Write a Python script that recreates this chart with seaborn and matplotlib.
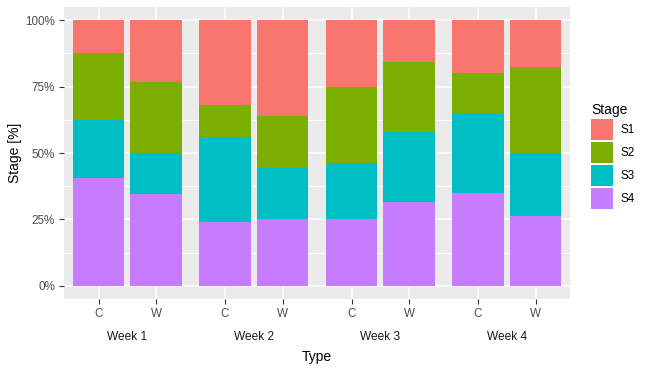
import pandas as pd
import matplotlib.pyplot as plt
import seaborn as sns
from matplotlib.patches import Patch
from matplotlib.ticker import MultipleLocator, PercentFormatter

# data (percent of each stage per week / type)
weeks = ['Week 1', 'Week 2', 'Week 3', 'Week 4']
types = ['C', 'W']
stages = ['S1', 'S2', 'S3', 'S4']
s1 = [12.3, 23.3, 32.0, 36.1, 25.0, 15.8, 19.8, 17.7]
s2 = [25.3, 26.8, 11.8, 19.5, 28.8, 26.3, 15.2, 32.4]
s3 = [21.9, 15.3, 32.1, 19.4, 21.2, 26.3, 30.1, 23.7]
s4 = [40.5, 34.6, 24.1, 25.0, 25.0, 31.6, 34.9, 26.2]

stage_colors = {'S1': '#F8766D', 'S2': '#7CAE00', 'S3': '#00BFC4', 'S4': '#C77CFF'}

df = pd.DataFrame({
    'week': [w for w in weeks for t in types],
    'type': types * len(weeks),
    'S1': s1, 'S2': s2, 'S3': s3, 'S4': s4,
})
# cumulative heights from the bottom (S4) up, so S1 ends on top
df['c4'] = df['S4']
df['c3'] = df['c4'] + df['S3']
df['c2'] = df['c3'] + df['S2']
df['c1'] = df['c2'] + df['S1']
df['c1'] = df['c1'] / df['c1'] * 100  # fill to 100%

plt.rcParams['font.family'] = ['Liberation Sans', 'DejaVu Sans']

W, H = 652, 374
fig = plt.figure(figsize=(W / 100, H / 100), dpi=100)
left, right, top, bottom = 64, 570, 7, 299
pw = (right - left) / 4

axes = []
for i, wk in enumerate(weeks):
    ax = fig.add_axes([(left + i * pw) / W, 1 - bottom / H, pw / W, (bottom - top) / H])
    sub = df[df['week'] == wk]
    for col, st in zip(['c1', 'c2', 'c3', 'c4'], stages):
        sns.barplot(data=sub, x='type', y=col, order=types, color=stage_colors[st],
                    saturation=1, width=0.9, edgecolor='none', linewidth=0, ax=ax, zorder=2)
    ax.set_xlim(-0.6, 1.6)
    ax.set_ylim(-5, 105)
    ax.set_facecolor('#EBEBEB')
    for s in ax.spines.values():
        s.set_visible(False)
    ax.yaxis.set_major_locator(MultipleLocator(25))
    ax.yaxis.set_minor_locator(MultipleLocator(12.5))
    ax.grid(which='major', color='white', linewidth=1.1, zorder=0)
    ax.grid(which='minor', axis='y', color='white', linewidth=0.55, zorder=0)
    ax.set_axisbelow(True)
    ax.tick_params(axis='x', which='major', length=3.5, width=0.8, color='#333333',
                   labelcolor='#4D4D4D', labelsize=8.4, pad=3)
    ax.tick_params(axis='y', which='minor', length=0)
    ax.set_xlabel('')
    ax.set_ylabel('')
    if i == 0:
        ax.yaxis.set_major_formatter(PercentFormatter(decimals=0))
        ax.tick_params(axis='y', which='major', length=3.5, width=0.8, color='#333333',
                       labelcolor='#4D4D4D', labelsize=8.4, pad=3)
    else:
        ax.tick_params(axis='y', which='major', length=0, labelleft=False)
    fig.text((left + (i + 0.5) * pw) / W, 1 - 337 / H, wk, ha='center', va='center',
             fontsize=8.6, color='#1A1A1A')
    axes.append(ax)

fig.text((left + right) / 2 / W, 1 - 357 / H, 'Type', ha='center', va='center',
         fontsize=10, color='black')
fig.text(15 / W, 1 - (top + bottom) / 2 / H, 'Stage [%]', ha='center', va='center',
         rotation=90, fontsize=10, color='black')

handles = [Patch(facecolor=stage_colors[s], edgecolor='none', label=s) for s in stages]
leg = fig.legend(handles=handles, title='Stage', loc='upper left',
                 bbox_to_anchor=(591 / W, 1 - 103 / H), frameon=False,
                 fontsize=8.4, title_fontsize=10, handlelength=1.9, handleheight=2.38,
                 labelspacing=0.17, handletextpad=0.65, borderaxespad=0, borderpad=0)
leg._legend_box.align = 'left'

fig.savefig('out.png', dpi=100)
